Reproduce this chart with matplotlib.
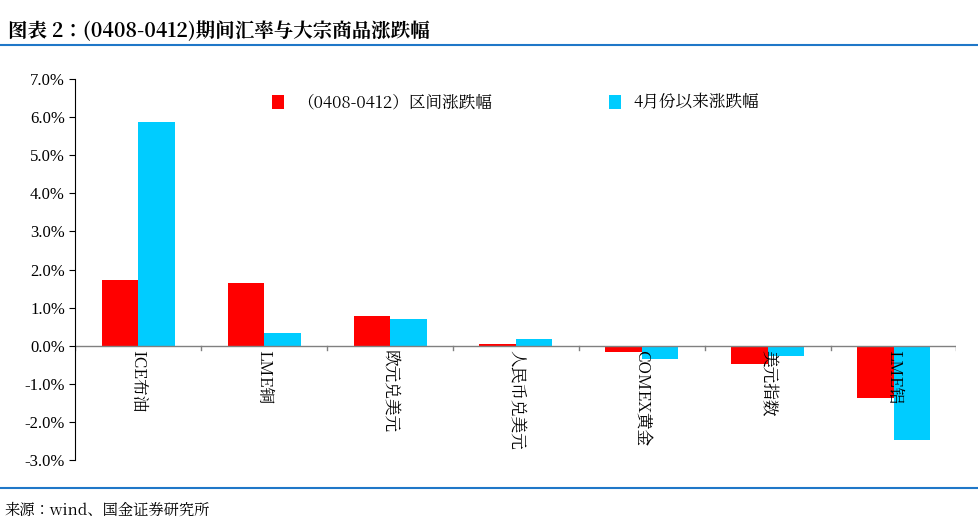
import numpy as np
import matplotlib.pyplot as plt
from matplotlib import font_manager

cjk = [f.name for f in font_manager.fontManager.ttflist if 'CJK' in f.name]
cjk_name = 'Noto Sans CJK SC' if 'Noto Sans CJK SC' in cjk else (cjk[0] if cjk else 'DejaVu Sans')
plt.rcParams['font.family'] = 'sans-serif'
plt.rcParams['font.sans-serif'] = [cjk_name, 'DejaVu Sans']

categories = ['ICE布油', 'LME铜', '欧元兑美元', '人民币兑美元', 'COMEX黄金', '美元指数', 'LME铝']
week_chg = [1.72, 1.64, 0.77, 0.05, -0.16, -0.47, -1.37]
month_chg = [5.88, 0.34, 0.71, 0.18, -0.34, -0.26, -2.48]
yticks = [-3, -2, -1, 0, 1, 2, 3, 4, 5, 6, 7]

fig = plt.figure(figsize=(9.79, 5.26), dpi=100)
ax = fig.add_axes([0.077, 0.125, 0.9, 0.725])

x = np.arange(len(categories))
w = 0.29
ax.bar(x - w / 2, week_chg, w, color='#FF0000', label='（0408-0412）区间涨跌幅')
ax.bar(x + w / 2, month_chg, w, color='#00CCFF', label='4月份以来涨跌幅')

ax.set_xlim(-0.5, len(categories) - 0.5)
ax.set_ylim(-3, 7)
ax.set_yticks(yticks)
ax.set_yticklabels(['%.1f%%' % v for v in yticks], fontfamily='Liberation Serif', fontsize=12)
ax.tick_params(axis='y', length=4, direction='out')
for s in ['top', 'right', 'bottom']:
    ax.spines[s].set_visible(False)
ax.axhline(0, color='#808080', lw=1)
for b in np.arange(-0.5, len(categories), 1.0):
    ax.plot([b, b], [0, -0.12], color='#808080', lw=1)
ax.set_xticks([])
for i, c in enumerate(categories):
    ax.text(i, -0.12, c, rotation=270, ha='center', va='top', fontsize=12,
            fontfamily=[cjk_name])

ax.legend(loc='upper center', bbox_to_anchor=(0.5, 1.0), ncol=2, frameon=False,
          fontsize=12, handlelength=0.7, handleheight=0.9, columnspacing=7)

fig.text(0.008, 0.94, '图表 2：(0408-0412)期间汇率与大宗商品涨跌幅', fontsize=14,
         fontweight='bold', style='italic', va='center')
fig.add_artist(plt.Line2D([0, 1], [0.915, 0.915], color='#1F77C8', lw=1.5))
fig.add_artist(plt.Line2D([0, 1], [0.072, 0.072], color='#1F77C8', lw=1.5))
fig.text(0.005, 0.03, '来源：wind、国金证券研究所', fontsize=11, va='center')

fig.savefig('out.png')
